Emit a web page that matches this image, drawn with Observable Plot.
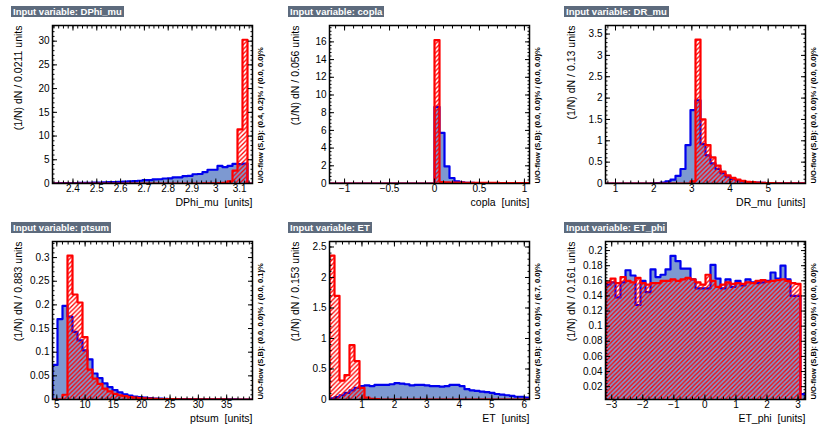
<!DOCTYPE html>
<html><head><meta charset="utf-8">
<script src="https://cdn.jsdelivr.net/npm/d3@7"></script>
<script src="https://cdn.jsdelivr.net/npm/@observablehq/plot@0.6"></script>
<style>
body{margin:0;background:#fff;}
#chart{position:relative;width:830px;height:432px;overflow:hidden;font-family:"Liberation Sans",Arial,Helvetica,sans-serif;background:#fff;}
.panel{position:absolute;}
.title{position:absolute;left:11px;top:6px;background:#5D6B7D;color:#fff;font-weight:bold;font-size:9.5px;line-height:11px;padding:0 2px;white-space:nowrap;}
</style></head><body>
<svg width="0" height="0" style="position:absolute"><defs>
<pattern id="hatch" patternUnits="userSpaceOnUse" width="4.5" height="4.5">
<path d="M-1,1 L1,-1 M0,4.5 L4.5,0 M3.5,5.5 L5.5,3.5" stroke="#ff0000" stroke-width="1.3"/>
</pattern></defs></svg>
<div id="chart"></div>
<script>
// ---- variables and binning ----
const variables = ["DPhi_mu", "copla", "DR_mu", "ptsum", "ET", "ET_phi"];
const binWidthLabels = ["0.0211", "0.056", "0.13", "0.883", "0.153", "0.161"];
const xMin = [2.314, -1.1676, 0.738, 4.24, 0.0, -3.2];
const xMax = [3.154, 1.0564, 5.978, 39.56, 6.16, 3.24];
const yMin = [0, 0, 0, 0, 0, 0.003];
const yMax = [33.3, 17.85, 3.7, 0.334, 2.59, 0.212];
const overflowLabels = [
  "U/O-flow (S,B): (0.4, 0.2)% / (0.0, 0.0)%",
  "U/O-flow (S,B): (0.0, 0.0)% / (0.0, 0.0)%",
  "U/O-flow (S,B): (0.0, 0.0)% / (0.0, 0.0)%",
  "U/O-flow (S,B): (0.0, 0.0)% / (0.0, 0.1)%",
  "U/O-flow (S,B): (0.0, 0.0)% / (6.7, 0.0)%",
  "U/O-flow (S,B): (0.0, 0.0)% / (0.0, 0.0)%"
];

// ---- histogram contents (40 bins each), signal = blue, background = red ----
const DPhi_mu_signal = [0.05,0.06,0.07,0.09,0.1,0.12,0.14,0.15,0.18,0.2,0.23,0.27,0.3,0.34,0.38,0.45,
  0.52,0.58,0.7,0.72,0.85,0.9,1.05,1.1,1.27,1.3,1.55,1.6,1.95,2.0,2.4,2.9,2.9,3.7,3.45,3.7,4.15,4.1,4.2,0];
const DPhi_mu_background = [0,0,0,0,0,0,0,0,0,0,0,0,0,0,0,0,0,0,0,0,0,0,0,0,0,0,0,0,0,0,
  0.02,0.03,0.05,0.08,0.15,0.45,2.7,11.4,30.3,0];

const copla_signal = [0,0,0,0,0,0,0,0,0,0,0,0,0,0,0,0,0,0,0,0,0,
  8.65,5.72,1.93,0.62,0.25,0.12,0.08,0.06,0.05,0.04,0.03,0.03,0.02,0.02,0.02,0.01,0.01,0.01,0.01];
const copla_background = [0,0,0,0,0,0,0,0,0,0,0,0,0,0,0,0,0,0,0,0,0,
  16.2,0.15,0.12,0.1,0.1,0.09,0.08,0.08,0.07,0.07,0.06,0.06,0.06,0.05,0.05,0.05,0.05,0.04,0.04];

const DR_mu_signal = [0,0,0,0,0,0,0,0,0,0.005,0.01,0.02,0.05,0.09,0.18,0.34,0.9,1.72,1.95,
  0.92,0.66,0.47,0.34,0.24,0.16,0.11,0.07,0.05,0.035,0.025,0.02,0.015,0.01,0.008,0.006,0.005,0.004,0.003,0.002,0.002];
const DR_mu_background = [0,0,0,0,0,0,0,0,0,0,0,0,0,0,0,0,0,0.05,3.37,
  1.5,0.9,0.61,0.42,0.28,0.19,0.13,0.09,0.06,0.04,0.03,0.02,0.015,0.01,0.008,0.006,0.005,0.004,0.003,0.002,0.002];

const ptsum_signal = [0.073,0.17,0.198,0.175,0.143,0.125,0.104,0.085,0.055,0.045,0.034,0.026,0.02,0.015,0.011,
  0.008,0.006,0.005,0.004,0.003,0.002,0.002,0.0015,0.001,0.001,0.001,0.0008,0.0006,0.0005,0.0004,
  0.0003,0.0003,0.0002,0.0002,0.0001,0.0001,0.0001,0,0,0];
const ptsum_background = [0,0,0.01,0.304,0.222,0.205,0.132,0.063,0.044,0.033,0.023,0.017,0.012,0.009,0.007,
  0.005,0.004,0.003,0.0025,0.002,0.0015,0.001,0.001,0.0008,0.0006,0.0005,0.0004,0.0003,0.0003,0.0002,
  0.0002,0.0001,0.0001,0.0001,0.0001,0,0,0,0,0];

const ET_signal = [0.02,0.04,0.07,0.11,0.15,0.19,0.22,0.23,0.22,0.24,0.24,0.24,0.25,0.27,0.26,0.25,0.23,0.24,0.24,0.23,
  0.22,0.22,0.21,0.22,0.24,0.24,0.22,0.17,0.15,0.14,0.13,0.12,0.11,0.09,0.08,0.07,0.06,0.045,0.045,0.03];
const ET_background = [2.36,1.7,0.31,0.4,0.89,0.63,0.19,0.03,0.01,0.005,0,0,0,0,0,0,0,0,0,0,
  0,0,0,0,0,0,0,0,0,0,0,0,0,0,0,0,0,0,0,0];

const ET_phi_signal = [0.155,0.158,0.138,0.158,0.174,0.167,0.128,0.16,0.145,0.175,0.165,0.168,0.175,0.193,0.186,
  0.176,0.176,0.162,0.15,0.15,0.15,0.181,0.163,0.15,0.162,0.152,0.16,0.154,0.162,0.158,0.157,0.158,0.16,
  0.171,0.163,0.18,0.162,0.14,0.14,0.01];
const ET_phi_background = [0.158,0.163,0.157,0.165,0.16,0.158,0.164,0.157,0.155,0.157,0.157,0.16,0.16,0.162,0.16,
  0.162,0.164,0.162,0.158,0.155,0.168,0.16,0.152,0.155,0.158,0.156,0.157,0.156,0.158,0.157,0.16,0.161,0.159,
  0.16,0.161,0.162,0.16,0.157,0.156,0];

// ---- ticks ----
const xMajorTicks = [
  [2.4,2.5,2.6,2.7,2.8,2.9,3.0,3.1],
  [-1,-0.5,0,0.5,1],
  [1,2,3,4,5],
  [5,10,15,20,25,30,35],
  [1,2,3,4,5,6],
  [-3,-2,-1,0,1,2,3]
];
const yMajorTicks = [
  [0,5,10,15,20,25,30],
  [0,2,4,6,8,10,12,14,16],
  [0,0.5,1,1.5,2,2.5,3,3.5],
  [0,0.05,0.1,0.15,0.2,0.25,0.3],
  [0,0.5,1,1.5,2,2.5],
  [0.02,0.04,0.06,0.08,0.1,0.12,0.14,0.16,0.18,0.2]
];
const xMinorStep = [0.02, 0.1, 0.2, 1, 0.2, 0.2];
const yMinorStep = [1, 0.4, 0.1, 0.01, 0.1, 0.004];

const signals = [DPhi_mu_signal, copla_signal, DR_mu_signal, ptsum_signal, ET_signal, ET_phi_signal];
const backgrounds = [DPhi_mu_background, copla_background, DR_mu_background, ptsum_background, ET_background, ET_phi_background];

function steps(values, lo, hi) {
  const w = (hi - lo) / values.length;
  const pts = [{x: lo, y: 0}];
  values.forEach((v, i) => { pts.push({x: lo + i * w, y: v}, {x: lo + (i + 1) * w, y: v}); });
  pts.push({x: hi, y: 0});
  return pts;
}
function minor(lo, hi, step) {
  const a = Math.ceil(lo / step - 1e-9), b = Math.floor(hi / step + 1e-9);
  return d3.range(a, b + 1).map(k => +(k * step).toFixed(6));
}
const fmt = d => (+(+d).toFixed(6)).toString().replace("-", "\u2212");

const chart = document.getElementById("chart");
variables.forEach((name, i) => {
  const col = i % 3, row = Math.floor(i / 3);
  const left = [0, 277, 553][col], top = row * 216;
  const sig = steps(signals[i], xMin[i], xMax[i]);
  const bkg = steps(backgrounds[i], xMin[i], xMax[i]);
  const xmT = minor(xMin[i], xMax[i], xMinorStep[i]);
  const ymT = minor(yMin[i], yMax[i], yMinorStep[i]);
  const plot = Plot.plot({
    width: 277, height: 216,
    marginLeft: 52, marginRight: 25, marginTop: 25, marginBottom: 33,
    style: {fontSize: "10px", fontFamily: "'Liberation Sans', Arial, sans-serif", color: "black", background: "transparent"},
    x: {domain: [xMin[i], xMax[i]]},
    y: {domain: [yMin[i], yMax[i]]},
    marks: [
      Plot.areaY(sig, {x: "x", y1: 0, y2: "y", fill: "#7d99d1", clip: true}),
      Plot.line(sig, {x: "x", y: "y", stroke: "#0000ee", strokeWidth: 2.2, clip: true}),
      Plot.areaY(bkg, {x: "x", y1: 0, y2: "y", fill: "url(#hatch)", clip: true}),
      Plot.line(bkg, {x: "x", y: "y", stroke: "#ff0000", strokeWidth: 2.2, clip: true}),
      Plot.frame({stroke: "black", strokeWidth: 1.5}),
      // labels
      Plot.axisX({ticks: xMajorTicks[i], anchor: "bottom", tickSize: 0, tickPadding: 1.5, tickFormat: fmt, label: null}),
      Plot.axisY({ticks: yMajorTicks[i], anchor: "left", tickSize: 0, tickPadding: 3, tickFormat: fmt, label: null}),
      // inward ticks, mirrored
      Plot.axisX({ticks: xMajorTicks[i], anchor: "bottom", tickSize: -4.5, fill: "none", label: null}),
      Plot.axisX({ticks: xMajorTicks[i], anchor: "top", tickSize: -4.5, fill: "none", label: null}),
      Plot.axisX({ticks: xmT, anchor: "bottom", tickSize: -2.5, fill: "none", label: null}),
      Plot.axisX({ticks: xmT, anchor: "top", tickSize: -2.5, fill: "none", label: null}),
      Plot.axisY({ticks: yMajorTicks[i], anchor: "left", tickSize: -5, fill: "none", label: null}),
      Plot.axisY({ticks: yMajorTicks[i], anchor: "right", tickSize: -5, fill: "none", label: null}),
      Plot.axisY({ticks: ymT, anchor: "left", tickSize: -2.5, fill: "none", label: null}),
      Plot.axisY({ticks: ymT, anchor: "right", tickSize: -2.5, fill: "none", label: null}),
      // axis titles
      Plot.text([`(1/N) dN / ${binWidthLabels[i]} units`], {text: d => d, frameAnchor: "top-left", rotate: -90, textAnchor: "end", dx: -38, fontSize: 10.5}),
      Plot.text([`${name}\u00a0\u00a0[units]`], {text: d => d, frameAnchor: "bottom-right", textAnchor: "end", dy: 22, fontSize: 10.5}),
      Plot.text([overflowLabels[i]], {text: d => d, frameAnchor: "bottom-right", rotate: -90, textAnchor: "start", dx: 10, fontSize: 7.6, fontWeight: "bold"})
    ]
  });
  const wrap = document.createElement("div");
  wrap.className = "panel";
  wrap.style.left = left + "px";
  wrap.style.top = top + "px";
  wrap.appendChild(plot);
  const t = document.createElement("div");
  t.className = "title";
  t.textContent = "Input variable: " + name;
  wrap.appendChild(t);
  chart.appendChild(wrap);
});
</script>
</body></html>
